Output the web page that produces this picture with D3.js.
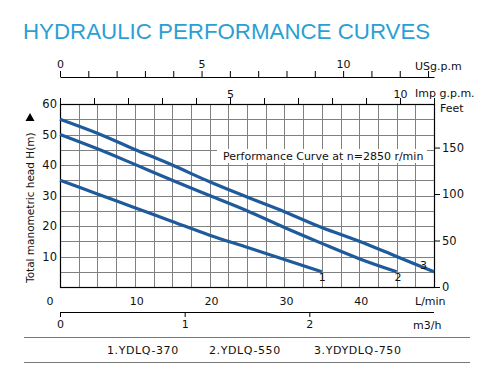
<!DOCTYPE html>
<html>
<head>
<meta charset="utf-8">
<script src="https://cdn.jsdelivr.net/npm/d3@7"></script>
<style>
  body { margin: 0; background: #fff; }
  text { font-family: "DejaVu Sans", Verdana, sans-serif; }
</style>
</head>
<body>
<div id="chart"></div>
<script>
// flow in L/min, head in m
const flow1 = [0, 5, 10, 15, 20, 25, 30, 35];
const head1 = [35, 30.5, 26, 21.5, 17, 13, 9, 5];
const flow2 = [0, 5, 10, 15, 20, 25, 30, 35, 40, 45];
const head2 = [50, 45.3, 40.2, 35, 30, 25, 19.5, 14.3, 9.3, 5];
const flow3 = [0, 5, 10, 15, 20, 25, 30, 35, 40, 45, 50];
const head3 = [55, 50.4, 45.1, 40, 34.5, 29.5, 24.7, 19.5, 15, 10, 5];
const curveNames = ["1", "2", "3"];
const models = ["1.YDLQ-370", "2.YDLQ-550", "3.YDYDLQ-750"];
const headTicks = [10, 20, 30, 40, 50, 60];
const feetTicks = [0, 50, 100, 150];
const lminTicks = [0, 10, 20, 30, 40];
const m3hTicks = [0, 1, 2];

const W = 490, H = 375;
const pLeft = 60, pRight = 434, pTop = 104, pBottom = 287;

const svg = d3.select("#chart").append("svg")
  .attr("width", W).attr("height", H);

const x = d3.scaleLinear().domain([0, 50]).range([pLeft, pRight]);
const y = d3.scaleLinear().domain([0, 60]).range([pBottom, pTop]);
const yFeet = d3.scaleLinear().domain([0, 60 / 0.3048]).range([pBottom, pTop]);
const xUs = d3.scaleLinear().domain([0, 50 / 3.785]).range([pLeft, pRight]);
const xImp = d3.scaleLinear().domain([0, 50 / 4.546]).range([pLeft, pRight]);
const xM3 = d3.scaleLinear().domain([0, 3]).range([pLeft, x(3 * 1000 / 60)]);

// title
svg.append("text")
  .attr("x", 23).attr("y", 39)
  .style("font-family", "'Liberation Sans', Arial, sans-serif")
  .style("font-size", "22.3px")
  .attr("fill", "#2b9fd4")
  .text("HYDRAULIC PERFORMANCE CURVES");

// grid
const grid = svg.append("g").attr("stroke", "#808080").attr("stroke-width", 1);
grid.selectAll("line.v").data(d3.range(2.5, 50, 2.5)).join("line")
  .attr("x1", d => Math.round(x(d)) + 0.5).attr("x2", d => Math.round(x(d)) + 0.5)
  .attr("y1", pTop).attr("y2", pBottom);
grid.selectAll("line.h").data(d3.range(5, 60, 5)).join("line")
  .attr("y1", d => Math.round(y(d)) + 0.5).attr("y2", d => Math.round(y(d)) + 0.5)
  .attr("x1", pLeft).attr("x2", pRight);

// label box over grid
svg.append("rect")
  .attr("x", 217).attr("y", 149).attr("width", 210).attr("height", 14)
  .attr("fill", "#fff");
svg.append("text")
  .attr("x", 223).attr("y", 160)
  .style("font-size", "11px")
  .attr("fill", "#111")
  .text("Performance Curve at n=2850 r/min");

// plot border
svg.append("rect")
  .attr("x", pLeft + 0.5).attr("y", pTop + 0.5)
  .attr("width", pRight - pLeft).attr("height", pBottom - pTop)
  .attr("fill", "none").attr("stroke", "#000").attr("stroke-width", 1.2);

// curves
const line = d3.line()
  .x(d => x(d[0])).y(d => y(d[1]))
  .curve(d3.curveMonotoneX);
const series = [
  d3.zip(flow1, head1),
  d3.zip(flow2, head2),
  d3.zip(flow3, head3)
];
svg.append("g").selectAll("path").data(series).join("path")
  .attr("d", line)
  .attr("fill", "none")
  .attr("stroke", "#1f5b9c")
  .attr("stroke-width", 3.2);

// curve numbers
const numPos = [[-3, 9], [-2, 9], [-14, -3]];
svg.append("g").selectAll("text").data(series).join("text")
  .attr("x", (d, i) => x(d[d.length - 1][0]) + numPos[i][0])
  .attr("y", (d, i) => y(d[d.length - 1][1]) + numPos[i][1])
  .style("font-size", "11px")
  .attr("fill", "#111")
  .text((d, i) => curveNames[i]);

// left axis
const yAxis = svg.append("g")
  .attr("transform", `translate(${pLeft},0)`)
  .call(d3.axisLeft(y).tickValues(headTicks).tickSize(0).tickPadding(3));
yAxis.select(".domain").remove();
yAxis.selectAll("text").style("font-size", "11.5px").attr("fill", "#111");

// right axis (feet)
const fAxis = svg.append("g")
  .attr("transform", `translate(${pRight},0)`)
  .call(d3.axisRight(yFeet).tickValues(feetTicks).tickSize(6).tickPadding(2));
fAxis.select(".domain").remove();
fAxis.selectAll("text").style("font-size", "11.5px").attr("fill", "#111");
svg.append("text").attr("x", 440).attr("y", 112)
  .style("font-size", "11px").attr("fill", "#111").text("Feet");

// top US gpm axis
const usAxis = svg.append("g")
  .attr("transform", "translate(0,77)")
  .call(d3.axisTop(xUs).tickValues(d3.range(0, 14)).tickSize(6).tickSizeOuter(0)
    .tickFormat(d => d % 5 === 0 ? d : ""));
usAxis.selectAll("text").style("font-size", "11px").attr("fill", "#111");
usAxis.select(".domain").attr("stroke-width", 1.2);
svg.append("text").attr("x", 415).attr("y", 70)
  .style("font-size", "11px").attr("fill", "#111").text("USg.p.m");

// Imp gpm axis on plot top
const impAxis = svg.append("g")
  .attr("transform", `translate(0,${pTop})`)
  .call(d3.axisTop(xImp).tickValues(d3.range(0, 12)).tickSize(6).tickSizeOuter(0).tickPadding(0)
    .tickFormat(d => (d === 5 || d === 10) ? d : ""));
impAxis.select(".domain").remove();
impAxis.selectAll("text").style("font-size", "11px").attr("fill", "#111");
svg.append("text").attr("x", 415).attr("y", 97)
  .style("font-size", "11px").attr("fill", "#111").text("Imp g.p.m.");

// L/min labels
svg.append("g").selectAll("text").data(lminTicks).join("text")
  .attr("x", d => d === 0 ? x(d) - 10 : x(d) + 2)
  .attr("y", 305)
  .attr("text-anchor", "middle")
  .style("font-size", "11px").attr("fill", "#111")
  .text(d => d);
svg.append("text").attr("x", 415).attr("y", 305)
  .style("font-size", "11px").attr("fill", "#111").text("L/min");

// m3/h axis
const mAxis = svg.append("g")
  .attr("transform", "translate(0,312)")
  .call(d3.axisBottom(xM3).tickValues(m3hTicks).tickFormat(d3.format("d"))
    .tickSize(5).tickSizeOuter(0).tickPadding(3));
mAxis.select(".domain").attr("d", `M${pLeft},0.5H${pRight}`).attr("stroke-width", 1.2);
mAxis.selectAll("text").style("font-size", "11px").attr("fill", "#111");
svg.append("text").attr("x", 413).attr("y", 329)
  .style("font-size", "11px").attr("fill", "#111").text("m3/h");

// y axis title + arrow
svg.append("text")
  .attr("transform", "translate(34,283) rotate(-90)")
  .style("font-size", "10.5px").attr("fill", "#111")
  .text("Total manometric head H(m)");
svg.append("path")
  .attr("d", "M30,113 L34.5,121 L25.5,121 Z")
  .attr("fill", "#000");

// model legend
svg.append("g").selectAll("line").data([337, 362]).join("line")
  .attr("x1", 24).attr("x2", 470)
  .attr("y1", d => d + 0.5).attr("y2", d => d + 0.5)
  .attr("stroke", "#777").attr("stroke-width", 1.2);
const legendX = [107, 209, 314];
svg.append("g").selectAll("text").data(models).join("text")
  .attr("x", (d, i) => legendX[i]).attr("y", 354)
  .style("font-size", "11px").style("letter-spacing", "0.6px").attr("fill", "#111")
  .text(d => d);
</script>
</body>
</html>
